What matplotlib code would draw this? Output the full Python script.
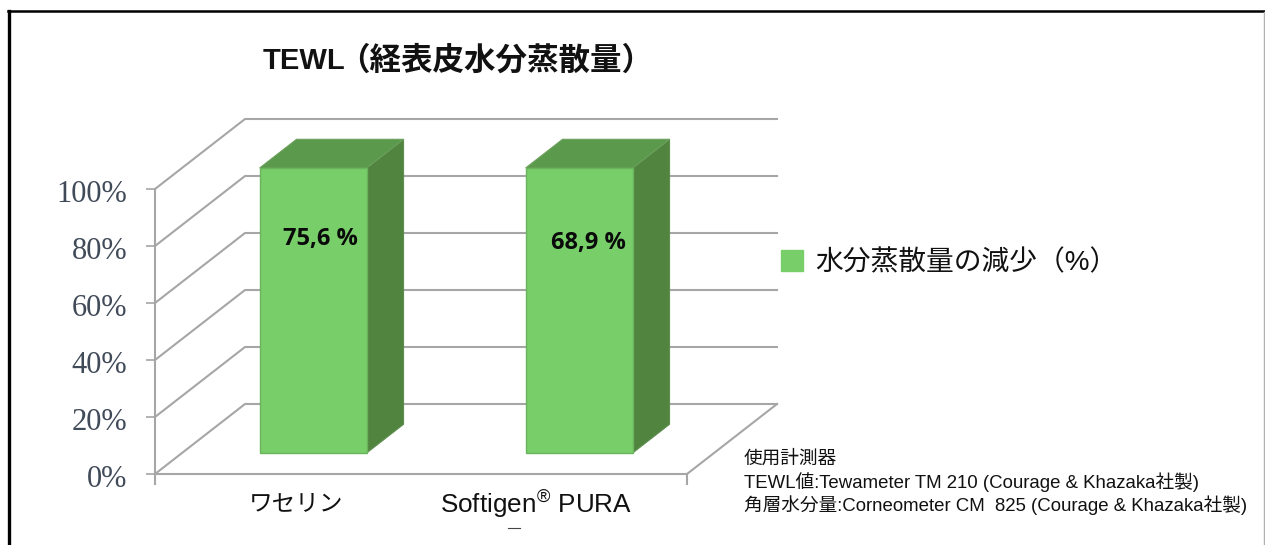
import matplotlib
matplotlib.use("Agg")
import matplotlib.pyplot as plt
from matplotlib.lines import Line2D
from matplotlib.patches import Patch, Polygon
from matplotlib.transforms import ScaledTranslation

plt.rcParams["font.family"] = ["Liberation Sans", "Noto Sans CJK JP", "DejaVu Sans"]
plt.rcParams["mathtext.fontset"] = "custom"
plt.rcParams["mathtext.rm"] = "Liberation Sans"

TITLE_LATIN = "TEWL"
TITLE_CJK = "（経表皮水分蒸散量）"
CATEGORIES = ["ワセリン", r"Softigen$^{\mathrm{®}}$ PURA"]
CATEGORY_SIZES = [17, 18.8]
BAR_HEIGHTS = [100, 100]
BAR_LABELS = ["75,6 %", "68,9 %"]
Y_TICKS = [0, 20, 40, 60, 80, 100]
Y_TICK_LABELS = ["0%", "20%", "40%", "60%", "80%", "100%"]
LEGEND_LABEL = "水分蒸散量の減少（%）"
NOTE_LINES = [
    "使用計測器",
    "TEWL値:Tewameter TM 210 (Courage & Khazaka社製)",
    "角層水分量:Corneometer CM  825 (Courage & Khazaka社製)",
]

W, H = 1265, 545
GRID = "#a6a6a6"
FRONT = "#78ce69"
SIDE = "#50843f"
TOP = "#5b9a4c"

# fake 3D: depth 1 is the back wall of the box
DX = 90 / 266
DY = 70 / 2.85
BAR_W = 107 / 266
D1, D2 = 0.30, 0.71
BAR_NUDGE = -0.007


def shift(x, y, d):
    return x + DX * d, y + DY * d


def draw_bar(ax, x, h):
    left, right = x - BAR_W / 2, x + BAR_W / 2
    a = shift(left, 0, D1)
    b = shift(right, 0, D1)
    c = shift(right, h, D1)
    e = shift(left, h, D1)
    b2 = shift(right, 0, D2)
    c2 = shift(right, h, D2)
    e2 = shift(left, h, D2)
    ax.add_patch(Polygon([b, b2, c2, c], fc=SIDE, ec="#5f8f50", lw=0.8, zorder=3, clip_on=False))
    ax.add_patch(Polygon([e, c, c2, e2], fc=TOP, ec="#6ba05c", lw=0.8, zorder=3, clip_on=False))
    ax.add_patch(Polygon([a, b, c, e], fc=FRONT, ec="#6cb35e", lw=1.0, zorder=4, clip_on=False))


def main():
    fig = plt.figure(figsize=(W / 100, H / 100), dpi=100)
    ax = fig.add_axes([155 / W, (H - 474) / H, 532 / W, 285 / H])
    ax.set_xlim(-0.5, 1.5)
    ax.set_ylim(0, 100)
    ax.patch.set_visible(False)
    for s in ax.spines.values():
        s.set_visible(False)

    # walls and floor
    for y in Y_TICKS:
        x0, y0 = shift(-0.5, y, 0)
        x1, y1 = shift(-0.5, y, 1)
        x2, _ = shift(1.5, y, 1)
        ax.plot([x0, x1, x2], [y0, y1, y1], color=GRID, lw=1.5, clip_on=False, zorder=1)
    fx, fy = shift(1.5, 0, 1)
    ax.plot([-0.5, 1.5, fx], [0, 0, fy], color=GRID, lw=1.5, clip_on=False, zorder=1)
    ax.plot([-0.5, -0.5], [-3.5, 100], color=GRID, lw=1.5, clip_on=False, zorder=1)
    ax.plot([1.5, 1.5], [-3.5, 0], color=GRID, lw=1.5, clip_on=False, zorder=1)

    ax.set_yticks(Y_TICKS)
    ax.set_yticklabels(Y_TICK_LABELS, family="Liberation Serif", fontsize=22, color="#404a58")
    ax.tick_params(axis="y", length=6.5, width=1.2, color=GRID, pad=13.5)
    ax.set_xticks([])
    down = ScaledTranslation(0, -2 / 100, fig.dpi_scale_trans)
    for label in ax.get_yticklabels():
        label.set_transform(label.get_transform() + down)

    for i, h in enumerate(BAR_HEIGHTS):
        draw_bar(ax, i + BAR_NUDGE, h)
        bx, by = shift(i + BAR_NUDGE, h, D1)
        ax.annotate(BAR_LABELS[i], xy=(bx, by), xytext=(7 + i * 2, -71 - i * 4),
                    textcoords="offset pixels", ha="center", va="center",
                    family="Open Sans", weight="bold", fontsize=17, color="#0a0a0a",
                    zorder=5, annotation_clip=False)

    for i, cat in enumerate(CATEGORIES):
        ax.annotate(cat, xy=(i, 0), xytext=(8.5 - i * 26, -30), textcoords="offset pixels",
                    ha="center", va="center", fontsize=CATEGORY_SIZES[i], color="#111111",
                    annotation_clip=False)

    fig.text(263 / W, 1 - 61 / H, TITLE_LATIN, fontsize=21, weight="bold", va="center", color="#111111")
    fig.text(338.5 / W, 1 - 61 / H, TITLE_CJK, fontsize=22.7, weight="bold", va="center", color="#111111")

    fig.legend(handles=[Patch(fc=FRONT, ec=FRONT)], labels=[LEGEND_LABEL],
               loc="center left", bbox_to_anchor=(756 / W, 1 - 263 / H), frameon=False,
               fontsize=20, handlelength=0.8, handleheight=0.8, handletextpad=0.42,
               labelcolor="#111111")

    for line, y in zip(NOTE_LINES, [459, 482, 505]):
        fig.text(744 / W, 1 - y / H, line, fontsize=13.45, va="center", color="#111111")

    # picture frame, open at the bottom
    fig.add_artist(Line2D([9 / W, 9 / W], [0, 1 - 11 / H], color="black", lw=2.4))
    fig.add_artist(Line2D([8 / W, 1], [1 - 11 / H, 1 - 11 / H], color="black", lw=1.8))
    fig.add_artist(Line2D([1264 / W, 1264 / W], [0, 1 - 12 / H], color="#b0b0b0", lw=1.0))
    # stray mark under the second label
    fig.add_artist(Line2D([508 / W, 520 / W], [1 - 528 / H, 1 - 528 / H], color="#444444", lw=0.8))

    fig.savefig("out.png", dpi=100)


if __name__ == "__main__":
    main()
